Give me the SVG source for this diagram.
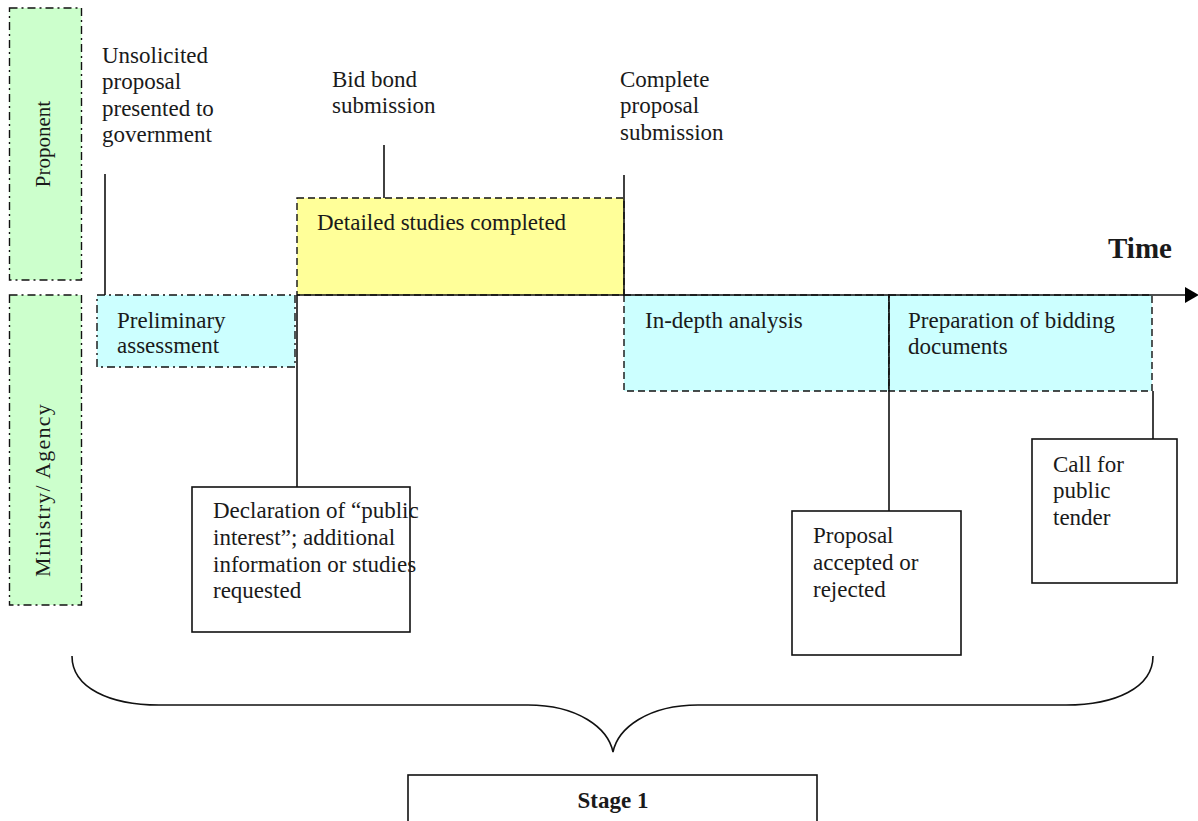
<svg xmlns="http://www.w3.org/2000/svg" width="1198" height="821" viewBox="0 0 1198 821">
<style>
text{font-family:"Liberation Serif","Times New Roman",serif;font-size:23px;fill:#1a1a1a}
.lane{fill:#CCFFCC;stroke:#111;stroke-width:1.4;stroke-dasharray:8 4 2 4}
.dd{stroke:#111;stroke-width:1.4;stroke-dasharray:8 4 2 4}
.dash{stroke:#111;stroke-width:1.4;stroke-dasharray:7 4}
.box{fill:#fff;stroke:#111;stroke-width:1.6}
.ln{stroke:#111;stroke-width:1.6;fill:none}
.rot{font-size:21px}
.rot2{font-size:22px;letter-spacing:1.2px}
.b{font-weight:bold}
.time{font-size:29px}
</style>
<defs>
<marker id="arr" viewBox="0 0 14 16" refX="0" refY="8" markerWidth="14" markerHeight="16" markerUnits="userSpaceOnUse" orient="auto">
<path d="M0,0 L14,8 L0,16 Z" fill="#000"/>
</marker>
</defs>
<rect width="1198" height="821" fill="#fff"/>

<g id="lane-proponent">
<rect class="lane" x="9.5" y="8" width="72" height="272"/>
<text class="rot" transform="translate(50,144) rotate(-90)" text-anchor="middle">Proponent</text>
</g>
<g id="lane-ministry">
<rect class="lane" x="9.5" y="295" width="72" height="310"/>
<text class="rot2" transform="translate(50,490) rotate(-90)" text-anchor="middle">Ministry/ Agency</text>
</g>

<g id="preliminary">
<rect class="dd" fill="#CCFFFF" x="97" y="295" width="198" height="72"/>
<text x="117" y="328">Preliminary</text>
<text x="117" y="353">assessment</text>
</g>
<g id="detailed">
<rect class="dash" fill="#FFFF99" x="297" y="198" width="327" height="97"/>
<text x="317" y="230">Detailed studies completed</text>
</g>
<g id="indepth">
<rect class="dash" fill="#CCFFFF" x="624" y="295" width="265" height="96"/>
<text x="645" y="328">In-depth analysis</text>
</g>
<g id="preparation">
<rect class="dash" fill="#CCFFFF" x="889" y="295" width="263" height="96"/>
<text x="908" y="328">Preparation of bidding</text>
<text x="908" y="354">documents</text>
</g>

<g id="label-unsolicited">
<text x="102" y="63">Unsolicited</text>
<text x="102" y="89">proposal</text>
<text x="102" y="116">presented to</text>
<text x="102" y="142">government</text>
</g>
<g id="label-bidbond">
<text x="332" y="87">Bid bond</text>
<text x="332" y="113">submission</text>
</g>
<g id="label-complete">
<text x="620" y="87">Complete</text>
<text x="620" y="113">proposal</text>
<text x="620" y="140">submission</text>
</g>
<g id="label-time">
<text class="b time" x="1108" y="258">Time</text>
</g>

<g id="declaration">
<rect class="box" x="192" y="487" width="218" height="145"/>
<text x="213" y="518">Declaration of “public</text>
<text x="213" y="545">interest”; additional</text>
<text x="213" y="572">information or studies</text>
<text x="213" y="598">requested</text>
</g>
<g id="proposal">
<rect class="box" x="792" y="511" width="169" height="144"/>
<text x="813" y="543">Proposal</text>
<text x="813" y="570">accepted or</text>
<text x="813" y="597">rejected</text>
</g>
<g id="call">
<rect class="box" x="1032" y="439" width="145" height="144"/>
<text x="1053" y="472">Call for</text>
<text x="1053" y="498">public</text>
<text x="1053" y="525">tender</text>
</g>
<g id="stage1">
<rect class="box" x="408" y="775" width="409" height="60"/>
<text class="b" x="613" y="808" text-anchor="middle">Stage 1</text>
</g>

<g id="connectors">
<line class="ln" x1="297" y1="295" x2="1185" y2="295" marker-end="url(#arr)"/>
<line class="ln" x1="105" y1="174" x2="105" y2="295"/>
<line class="ln" x1="384" y1="145" x2="384" y2="198"/>
<line class="ln" x1="624" y1="175" x2="624" y2="295"/>
<line class="ln" x1="297" y1="295" x2="297" y2="487"/>
<line class="ln" x1="889" y1="295" x2="889" y2="511"/>
<line class="ln" x1="1153" y1="391" x2="1153" y2="439"/>
<path class="ln" d="M72,656 C72,688 110,705 159,705 H528 C578,705 608,728 613,752 C618,728 648,705 698,705 H1066 C1115,705 1153,688 1153,656"/>
</g>
</svg>
